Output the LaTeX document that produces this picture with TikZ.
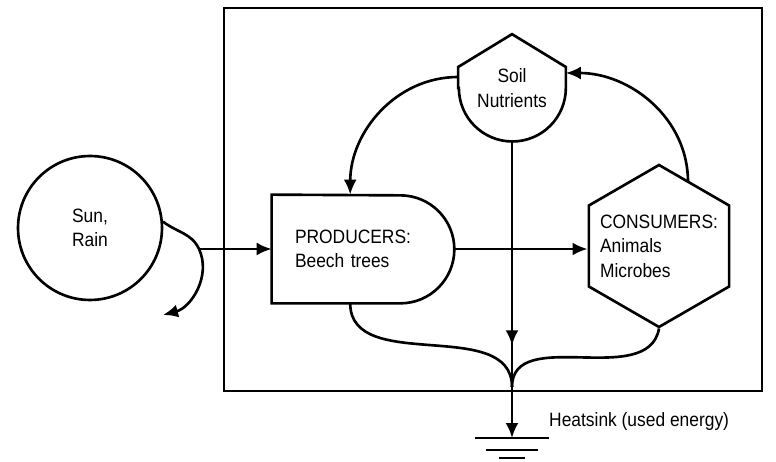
\documentclass[tikz,border=0pt]{standalone}
\usepackage{fontspec}
\setmainfont{Liberation Sans}[FakeStretch=0.9]
\usepackage{tikz}
\usetikzlibrary{arrows.meta, calc, shapes.geometric, decorations.markings}
\tikzset{
  lbl/.style={font=\fontsize{11pt}{14pt}\selectfont, align=left},
  srcnode/.style={lbl, circle, draw, line width=1.5pt, minimum size=2.88cm, align=center},
  tanknode/.style={lbl, minimum width=2.14cm, minimum height=2.14cm, align=center, inner sep=0pt},
  prodnode/.style={lbl, minimum width=3.64cm, minimum height=2.16cm, text width=2.72cm, inner sep=0pt},
  consnode/.style={lbl, regular polygon, regular polygon sides=6, regular polygon rotate=30,
    minimum size=3.24cm, inner sep=-10pt, draw, line width=1.5pt},
  outline/.style={draw, line width=1.5pt},
  flow/.style={-{Latex[length=3mm, width=2.6mm]}, line width=1.5pt},
  plainflow/.style={line width=1.5pt},
  midflow/.style={line width=1.5pt, postaction={decorate},
    decoration={markings, mark=at position #1 with {\arrow{Latex[length=3mm, width=2.6mm]}}}}
}
\begin{document}
\begin{tikzpicture}[x=0.02cm, y=0.02cm]
\useasboundingbox (0,0) rectangle (776,462);
\draw[outline] (224,71) rectangle (762,454);
\node[srcnode] (sun) at (90,234) {Sun,\\Rain};
\node[prodnode] (prod) at (363,213) {PRODUCERS:\\Beech trees};
\node[tanknode] (soil) at (512,374) {Soil\\Nutrients};
\node[consnode] (cons) at (659,216) {CONSUMERS:\\Animals\\Microbes};
\draw[outline] (prod.north west) -- (prod.south west) -- ($(prod.south east)+(-54,0)$)
  arc[start angle=-90, end angle=90, radius=1.08cm] -- cycle;
\draw[outline] (soil.west) -- ($(soil.west)+(0,21)$) -- (soil.north) -- ($(soil.east)+(0,21)$)
  -- (soil.east) arc[start angle=0, end angle=-180, radius=1.07cm] -- cycle;
\coordinate (split) at (199,213);
\coordinate (loss) at (163,147);
\coordinate (merge) at (512,75);
\coordinate (sink) at (512,24);
\draw[flow] (sun.5) to[out=-38, in=115] (split) to[out=-65, in=15] (loss);
\draw[flow] (split) -- (prod.west);
\draw[flow] (prod.east) -- (prod.east -| cons.west);
\draw[flow] ($(soil.west)+(0,11)$) to[out=180, in=90] ($(prod.north west)!0.43!(prod.north east)$);
\draw[flow] ($(cons.center)+(29,64)$) to[out=90, in=0] ($(soil.east)+(0,15)$);
\draw[midflow=0.83] (soil.south) -- (merge);
\draw[plainflow] ($(prod.south west)!0.43!(prod.south east)$) to[out=-90, in=90] (merge);
\draw[plainflow] (cons.south) to[out=-100, in=90] (merge);
\draw[flow] (merge) -- (sink);
\draw[plainflow] ($(sink)+(-37,0)$) -- ($(sink)+(37,0)$);
\draw[plainflow] ($(sink)+(-26,-12)$) -- ($(sink)+(26,-12)$);
\draw[plainflow] ($(sink)+(-13,-20)$) -- ($(sink)+(13,-20)$);
\node[lbl, anchor=west] (heat) at (543,40) {Heatsink (used energy)};
\end{tikzpicture}
\end{document}
